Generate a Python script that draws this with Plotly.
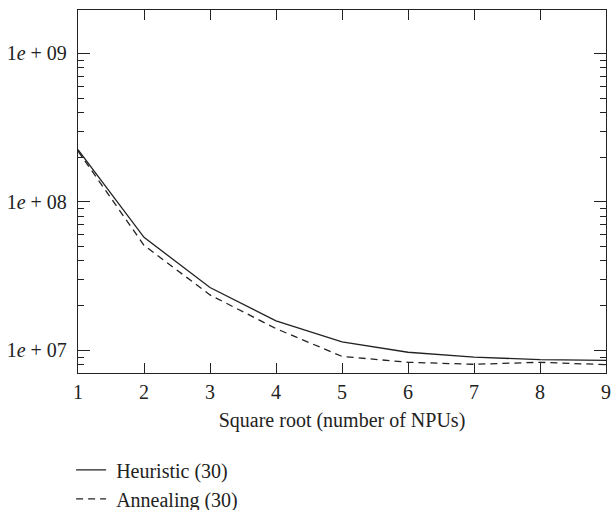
import plotly.graph_objects as go

x_vals = [1, 2, 3, 4, 5, 6, 7, 8, 9]
heuristic = [2.25e8, 5.77e7, 2.65e7, 1.58e7, 1.14e7, 9.7e6, 9.0e6, 8.65e6, 8.55e6]
annealing = [2.20e8, 5.1e7, 2.36e7, 1.40e7, 9.1e6, 8.3e6, 8.05e6, 8.3e6, 8.0e6]

y_tickvals = [1e7, 1e8, 1e9]
y_ticktext = ["1<i>e</i> + 07", "1<i>e</i> + 08", "1<i>e</i> + 09"]
minor_vals = [m * 10 ** p for p in (6, 7, 8) for m in range(2, 10)]

FONT = "Liberation Serif"
INK = "#222222"
FS = 20
Y_RANGE = [6.847, 9.293]

fig = go.Figure()
fig.add_trace(go.Scatter(x=x_vals, y=heuristic, mode="lines",
                         name="\u00a0Heuristic (30)", legendgroup="h",
                         line=dict(color=INK, width=1.3)))
fig.add_trace(go.Scatter(x=x_vals, y=annealing, mode="lines",
                         name="\u00a0Annealing (30)", legendgroup="a",
                         line=dict(color=INK, width=1.3, dash="7px,5px")))
# helper trace so the right-hand mirrored axis (with minor ticks) is drawn
fig.add_trace(go.Scatter(x=x_vals, y=heuristic, mode="lines", yaxis="y2",
                         showlegend=False, hoverinfo="skip",
                         line=dict(color="rgba(0,0,0,0)", width=0)))

axis_common = dict(ticks="inside", tickwidth=1.3, tickcolor=INK,
                   showgrid=False, zeroline=False)

fig.update_layout(
    width=612, height=510,
    margin=dict(l=78, r=6, t=10, b=137, autoexpand=False),
    paper_bgcolor="white", plot_bgcolor="white",
    font=dict(family=FONT, size=FS, color=INK),
    showlegend=True,
    legend=dict(x=-0.013, y=-0.213, xanchor="left", yanchor="top",
                orientation="v", bgcolor="rgba(0,0,0,0)",
                font=dict(family=FONT, size=FS, color=INK),
                traceorder="grouped", tracegroupgap=0, itemwidth=30),
    xaxis=dict(range=[1, 9], tickvals=x_vals, ticklen=10,
               showline=True, linecolor=INK, linewidth=1.3, mirror="ticks",
               automargin=False, ticklabelstandoff=1,
               title=dict(text="Square root (number of NPUs)", standoff=10,
                          font=dict(family=FONT, size=FS, color=INK)),
               tickfont=dict(family=FONT, size=FS, color=INK), **axis_common),
    yaxis=dict(type="log", range=Y_RANGE, tickmode="array",
               tickvals=y_tickvals, ticktext=y_ticktext, ticklen=12,
               showline=True, linecolor=INK, linewidth=1.3, mirror=True,
               automargin=False, ticklabelstandoff=6,
               tickfont=dict(family=FONT, size=FS, color=INK),
               minor=dict(tickmode="array", tickvals=minor_vals, ticks="inside",
                          ticklen=6, tickwidth=1.3, tickcolor=INK, showgrid=False),
               **axis_common),
    yaxis2=dict(type="log", range=Y_RANGE, overlaying="y", side="right",
                tickmode="array", tickvals=y_tickvals, ticklen=12,
                showticklabels=False, showline=False, automargin=False,
                minor=dict(tickmode="array", tickvals=minor_vals, ticks="inside",
                           ticklen=6, tickwidth=1.3, tickcolor=INK, showgrid=False),
                **axis_common),
)

fig.write_html(
    "out.html",
    config={"displayModeBar": False},
    post_script="document.body.style.margin='0';document.body.style.overflow='hidden';",
)
